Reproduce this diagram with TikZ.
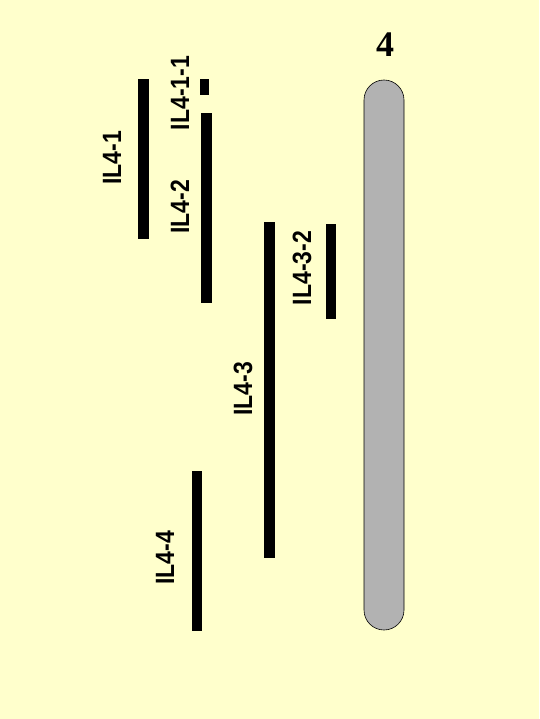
\documentclass[tikz,border=0pt]{standalone}
\usepackage{fontspec}
\setmainfont{Liberation Serif}
\setsansfont{Liberation Sans}
\begin{document}
\begin{tikzpicture}[x=1pt,y=-1pt,
  bar/.style={fill=black, draw=none, inner sep=0pt, minimum width=11pt},
  lab/.style={font=\sffamily\bfseries\fontsize{23}{23}\selectfont, rotate=90, inner sep=0pt, yscale=1.15},
  chrom/.style={fill=chromgray, draw=black, line width=0.6pt, rounded corners=20pt, minimum width=40pt, minimum height=550pt, inner sep=0pt}]
\definecolor{bgyellow}{RGB}{255,255,204}
\definecolor{chromgray}{RGB}{178,178,178}
\fill[bgyellow] (0,0) rectangle (539,719);
\useasboundingbox (0,0) rectangle (539,719);
\node[chrom] (chr) at (384,355) {};
\node[font=\rmfamily\bfseries\fontsize{36}{36}\selectfont, inner sep=0pt] (num) at (385,45) {4};
\node[bar, minimum height=160pt] (b41) at (143.5,159) {};
\node[bar, minimum width=9pt, minimum height=16pt] (b411) at (204.5,87) {};
\node[bar, minimum height=190pt] (b42) at (206.5,208) {};
\node[bar, minimum height=336pt] (b43) at (269.5,390) {};
\node[bar, minimum width=10pt, minimum height=95pt] (b432) at (331,271.5) {};
\node[bar, minimum width=10pt, minimum height=160pt] (b44) at (197,551) {};
\node[lab] (l41) at (112,158) {IL4-1};
\node[lab] (l411) at (180,93) {IL4-1-1};
\node[lab] (l42) at (180,207) {IL4-2};
\node[lab] (l43) at (243,389) {IL4-3};
\node[lab] (l432) at (302,268) {IL4-3-2};
\node[lab] (l44) at (165,558) {IL4-4};
\end{tikzpicture}
\end{document}
